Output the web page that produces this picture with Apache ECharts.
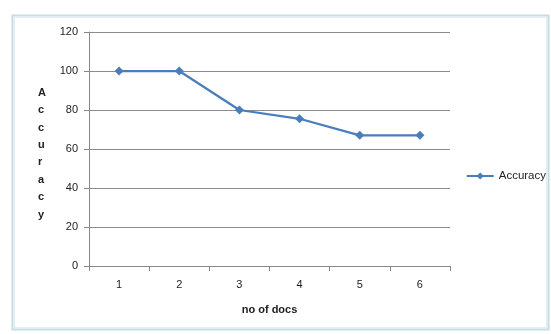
<!DOCTYPE html>
<html><head><meta charset="utf-8">
<script src="https://cdn.jsdelivr.net/npm/echarts@6/dist/echarts.min.js"></script>
<style>html,body{margin:0;padding:0;background:#fff}#c{width:551px;height:334px}</style>
</head><body><div id="c"></div>
<script>
const categories = ['1','2','3','4','5','6'];
const accuracy = [100, 100, 80, 75.5, 67, 67];
const seriesName = 'Accuracy';
const yTitle = 'Accuracy';
const xTitle = 'no of docs';

const chart = echarts.init(document.getElementById('c'));
chart.setOption({
  animation: false,
  textStyle: { fontFamily: 'Liberation Sans, Arial, sans-serif' },
  graphic: [
    { type: 'rect', shape: { x: 12.5, y: 15.5, width: 536, height: 314 },
      style: { fill: 'none', stroke: '#c5dce3', lineWidth: 2 } },
    { type: 'rect', shape: { x: 14.5, y: 17.5, width: 532, height: 310 },
      style: { fill: '#fff', stroke: '#e4edf0', lineWidth: 1 } },
    { type: 'text', left: 38, top: 84,
      style: { text: yTitle.split('').join('\n'), font: 'bold 11px Liberation Sans, Arial, sans-serif',
               fill: '#222', lineHeight: 17.4, align: 'center' } }
  ],
  grid: { left: 89, right: 101, top: 32, bottom: 68 },
  legend: {
    right: 5, top: 170, padding: 0, itemWidth: 27, itemHeight: 9,
    textStyle: { fontSize: 11.5, color: '#222' },
    itemGap: 2
  },
  xAxis: {
    type: 'category', data: categories, boundaryGap: true,
    name: xTitle, nameLocation: 'middle', nameGap: 38,
    nameTextStyle: { fontWeight: 'bold', fontSize: 11, color: '#222' },
    axisLine: { lineStyle: { color: '#888' } },
    axisTick: { show: true, length: 5, lineStyle: { color: '#888' }, alignWithLabel: false },
    axisLabel: { fontSize: 11, color: '#222', margin: 13 }
  },
  yAxis: {
    type: 'value', min: 0, max: 120, interval: 20,
    axisLine: { show: true, lineStyle: { color: '#888' } },
    axisTick: { show: true, length: 5, lineStyle: { color: '#888' } },
    axisLabel: { fontSize: 11, color: '#222', margin: 11 },
    splitLine: { lineStyle: { color: '#8c8c8c' } }
  },
  series: [{
    name: seriesName, type: 'line', data: accuracy,
    symbol: 'diamond', symbolSize: 9,
    lineStyle: { color: '#4a7ebb', width: 2.25 },
    itemStyle: { color: '#4a7ebb' }
  }]
});
</script></body></html>
